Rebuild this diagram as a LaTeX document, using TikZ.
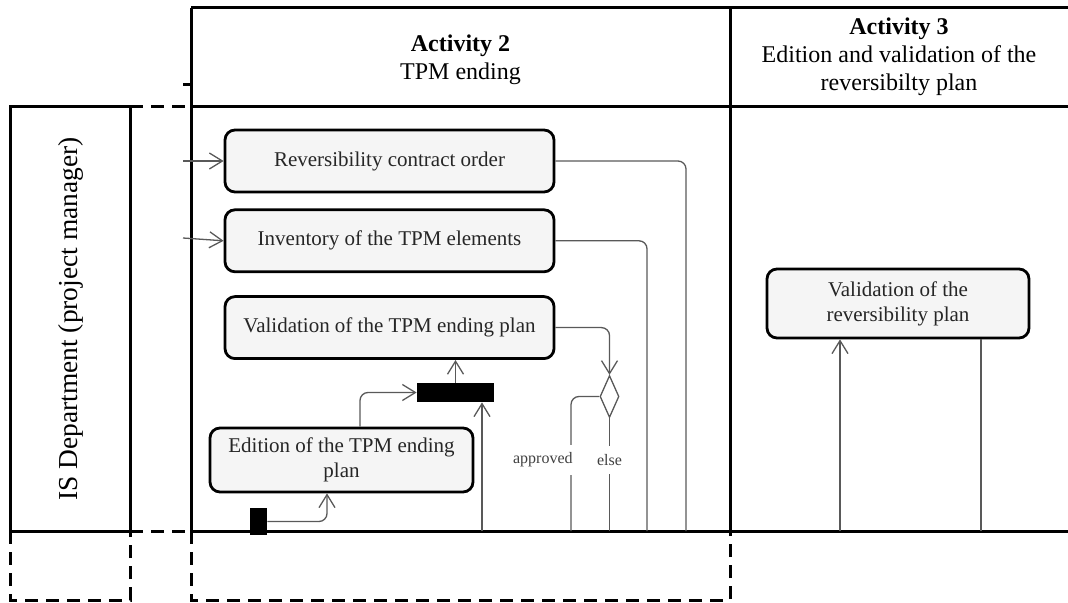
\documentclass[tikz,border=0pt]{standalone}
\usepackage{fontspec}
\setmainfont{Liberation Serif}
\usepackage{tikz}
\usetikzlibrary{positioning, calc, arrows.meta, shapes.geometric}

\tikzset{
    lane/.style={line width=1.5pt},
    ghost/.style={line width=1.5pt, dash pattern=on 6.5pt off 4pt},
    act/.style={draw, line width=1.4pt, rounded corners=5pt, fill=gray!8, align=center,
        text=black!85, font=\fontsize{10.5}{12.5}\selectfont},
    flow/.style={draw=black!65, line width=0.65pt, rounded corners=4pt},
    arr/.style={flow, -{Straight Barb[length=6.5pt,width=8pt]}},
    guard/.style={fill=white, inner xsep=1pt, inner ysep=4pt, text=black!75,
        font=\fontsize{8}{9}\selectfont},
    bar/.style={fill=black, inner sep=0pt}
}

\begin{document}
\begin{tikzpicture}[x=0.5pt, y=-0.5pt]
            \useasboundingbox (0,0) rectangle (1068,603);
            % swimlane frame
            \draw[lane] (191,8) -- (1068,8);
            \draw[lane] (191,107) -- (1068,107);
            \draw[lane] (191,8) -- (191,531);
            \draw[lane] (730,8) -- (730,531);
            \draw[lane] (191,531) -- (1068,531);
            \draw[lane] (10,107) rectangle (130,531);
            \draw[lane] (183,85) -- (191,85);
            \draw[ghost] (130,107) -- (191,107);
            \draw[ghost] (130,531) -- (191,531);
            \draw[ghost] (10,531) -- (10,600) -- (130,600) -- (130,531);
            \draw[ghost] (191,531) -- (191,600) -- (730,600) -- (730,531);
            \node[rotate=90, font=\fontsize{13.7}{16}\selectfont] (who) at (71,319) {IS Department (project manager)};
            \node[align=center, font=\fontsize{12}{14}\selectfont] (act2) at (460.5,60) {\textbf{Activity 2}\\TPM ending};
            \node[align=center, font=\fontsize{12}{14}\selectfont] (act3) at (899,57) {\textbf{Activity 3}\\Edition and validation of the\\reversibilty plan};
            % activities
            \node[act, minimum width=164.5pt, minimum height=31pt] (rco) at (389.5,161) {Reversibility contract order};
            \node[act, minimum width=164.5pt, minimum height=31pt, below=7.5pt of rco] (inv) {Inventory of the TPM elements};
            \node[act, minimum width=164.5pt, minimum height=31pt, below=11pt of inv] (vtp) {Validation of the TPM ending plan};
            \node[act, minimum width=131.5pt, minimum height=32pt] (etp) at (341.5,460) {Edition of the TPM ending\\plan};
            \node[act, minimum width=131pt, minimum height=34.5pt] (vrp) at (898,303.5) {Validation of the\\reversibility plan};
            \node[bar, minimum width=38.5pt, minimum height=9.5pt] (join) at (455.5,392.5) {};
            \node[bar, minimum width=8.5pt, minimum height=13.5pt] (init) at (258.5,521.5) {};
            \node[diamond, draw=black!65, line width=0.65pt, inner sep=0pt, minimum width=9.5pt, minimum height=21pt] (dec) at (609.5,396.5) {};
            % free ends on the lane border
            \coordinate (srcA) at (183,161);
            \coordinate (srcB) at (183,238);
            \coordinate (endA) at (686,531);
            \coordinate (endB) at (647,531);
            \coordinate (endC) at (571,531);
            \coordinate (endD) at (609.5,531);
            \coordinate (srcE) at (482,531);
            \coordinate (srcF) at (840,531);
            \coordinate (endF) at (981,531);
            % flows
            \draw[arr] (srcA) -- (rco.west);
            \draw[arr] (srcB) -- (inv.west);
            \draw[flow] (rco.east) -| (endA);
            \draw[flow] (inv.east) -| (endB);
            \draw[arr] (vtp.east) -| (dec.north);
            \draw[flow] (dec.west) -| (endC);
            \draw[flow] (dec.south) -- (endD);
            \draw[arr] (init.east) -| ([xshift=-7.25pt]etp.south);
            \draw[arr] ([xshift=9.25pt]etp.north) |- (join.west);
            \draw[arr] (join.north) -- (join.north |- vtp.south);
            \draw[arr] (srcE) -- (srcE |- join.south);
            \draw[arr] (srcF) -- (srcF |- vrp.south);
            \draw[flow] (endF |- vrp.south) -- (endF);
            \node[guard, anchor=east] (apr) at (575,460) {approved};
            \node[guard] (els) at (609.5,460) {else};
\end{tikzpicture}
\end{document}
